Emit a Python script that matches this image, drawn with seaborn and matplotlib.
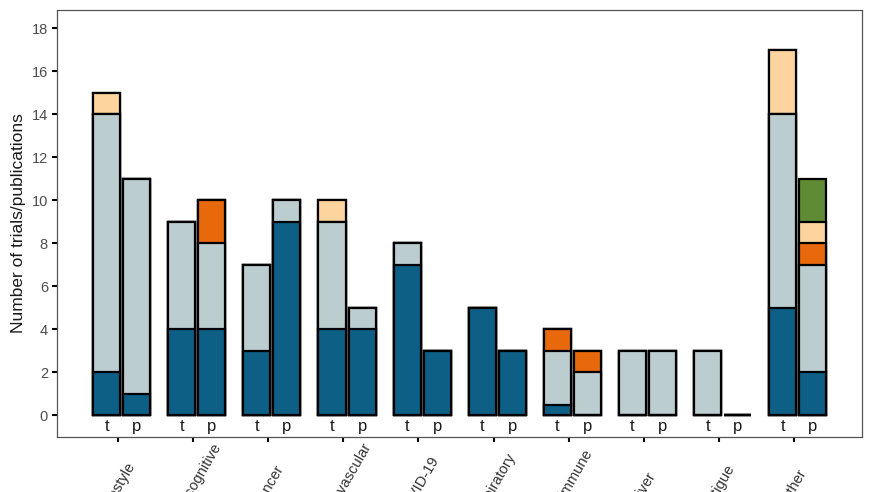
import numpy as np
import pandas as pd
import matplotlib
matplotlib.use("Agg")
import matplotlib.pyplot as plt
import matplotlib.transforms as mtrans
import seaborn as sns

# categories and stacked counts (t = trials, p = publications)
categories = ["Lifestyle", "Neurocognitive", "Cancer", "Cardiovascular", "COVID-19",
              "Respiratory", "Autoimmune", "Liver", "Fatigue", "Other"]
layers = ["layer1", "layer2", "layer3", "layer4", "layer5"]
layer_colors = ["#0E5F86", "#BCCDD0", "#E8680C", "#FDD49E", "#5E8B34"]

t_layer1 = [2, 4, 3, 4, 7, 5, 0.5, 0, 0, 5]
t_layer2 = [12, 5, 4, 5, 1, 0, 2.5, 3, 3, 9]
t_layer3 = [0, 0, 0, 0, 0, 0, 1, 0, 0, 0]
t_layer4 = [1, 0, 0, 1, 0, 0, 0, 0, 0, 3]
t_layer5 = [0, 0, 0, 0, 0, 0, 0, 0, 0, 0]

p_layer1 = [1, 4, 9, 4, 3, 3, 0, 0, 0, 2]
p_layer2 = [10, 4, 1, 1, 0, 0, 2, 3, 0, 5]
p_layer3 = [0, 2, 0, 0, 0, 0, 1, 0, 0, 1]
p_layer4 = [0, 0, 0, 0, 0, 0, 0, 0, 0, 1]
p_layer5 = [0, 0, 0, 0, 0, 0, 0, 0, 0, 2]

kinds = ["t", "p"]
offsets = {"t": -0.2, "p": 0.2}

rows = []
t_vals = [t_layer1, t_layer2, t_layer3, t_layer4, t_layer5]
p_vals = [p_layer1, p_layer2, p_layer3, p_layer4, p_layer5]
for i, cat in enumerate(categories):
    for kind, vals in (("t", t_vals), ("p", p_vals)):
        row = {"category": cat, "kind": kind, "pos": i + offsets[kind]}
        cum = 0
        for name, v in zip(layers, vals):
            cum += v[i]
            row[name] = cum
        rows.append(row)
df = pd.DataFrame(rows)

sns.set_style("white")
plt.rcParams["font.family"] = ["Liberation Sans", "DejaVu Sans"]

fig = plt.figure(figsize=(8.7, 4.92), dpi=100)
ax = fig.add_axes([0.0655, 0.1118, 0.925, 0.868])

# draw cumulative totals from top layer down so lower layers sit on top
for name, col in reversed(list(zip(layers, layer_colors))):
    sns.barplot(data=df, x="pos", y=name, native_scale=True, width=0.9,
                color=col, saturation=1, edgecolor="black", linewidth=1.6,
                errorbar=None, ax=ax)

for _, r in df.iterrows():
    ax.text(r["pos"], -0.5, r["kind"], ha="center", va="center",
            fontsize=12, color="#1a1a1a")

ax.set_xlim(-0.86, 9.85)
ax.set_ylim(-1, 18.84)
ax.set_yticks(np.arange(0, 19, 2))
ax.set_xticks(np.arange(len(categories)) - 0.05)
ax.set_xticklabels(categories, rotation=60, ha="center", va="center",
                   rotation_mode="anchor", fontsize=11, color="#333333")
shift = mtrans.ScaledTranslation(6 / 100, 0, fig.dpi_scale_trans)
for lab in ax.get_xticklabels():
    lab.set_transform(lab.get_transform() + shift)

ax.set_xlabel("")
ax.set_ylabel("Number of trials/publications", fontsize=12.5, color="#1a1a1a")
ax.tick_params(axis="both", bottom=True, left=True, length=3.5, width=1.5,
               color="black", direction="out", labelsize=10.5,
               labelcolor="#4D4D4D")
ax.tick_params(axis="x", pad=32, labelcolor="#333333")
ax.tick_params(axis="y", pad=3)
for sp in ax.spines.values():
    sp.set_visible(True)
    sp.set_color("#555555")
    sp.set_linewidth(0.9)

fig.savefig("out.png", dpi=100)
